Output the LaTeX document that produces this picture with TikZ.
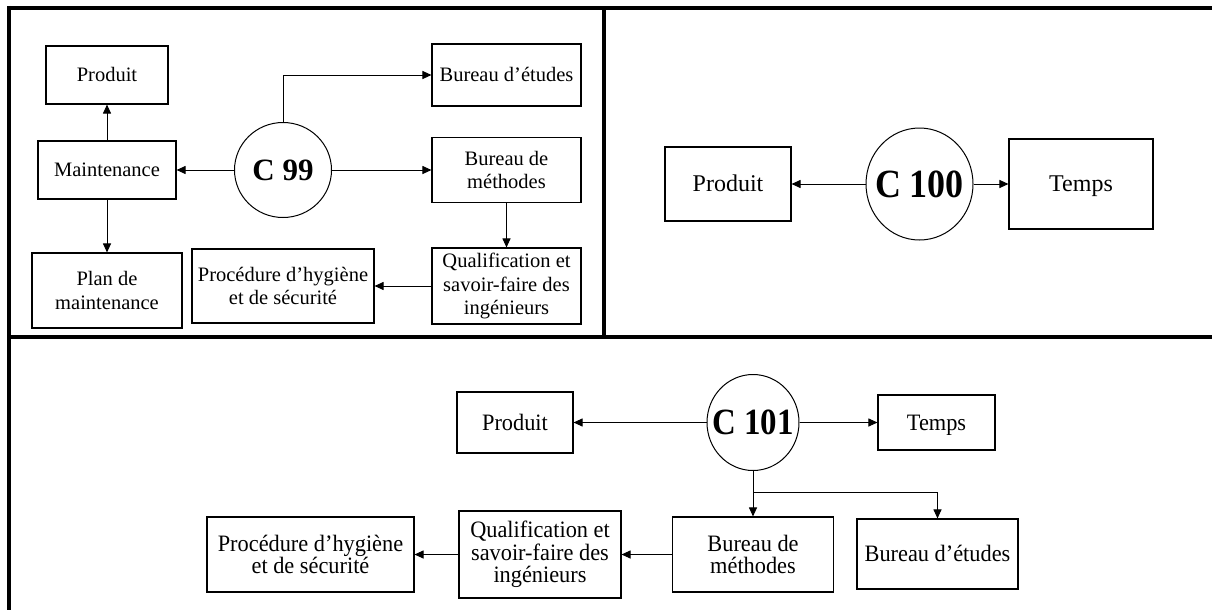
\documentclass[tikz,border=0pt]{standalone}
\usepackage{fontspec}
\setmainfont{Liberation Serif}
\newfontfamily\condfont[FakeStretch=0.95]{Liberation Serif}
\usetikzlibrary{arrows.meta,shapes.geometric}
\begin{document}
\begin{tikzpicture}[x=1pt,y=-1pt,
  box/.style={draw, line width=1.1pt, inner sep=0pt, align=center},
  tlf/.style={font=\fontsize{20.5}{23.5}\selectfont},
  trf/.style={font=\fontsize{24}{27}\selectfont},
  btf/.style={font=\condfont\fontsize{23.5}{22.5}\selectfont},
  onea/.style={text height=13.6pt, text depth=0pt},
  oneb/.style={text height=15.9pt, text depth=0pt},
  onec/.style={text height=15.6pt, text depth=0pt},
  conn/.style={line width=1pt, -{Triangle[length=9pt,width=8pt]}},
  frameline/.style={line width=4pt},
  circ/.style={draw, ellipse, line width=1pt, inner sep=0pt}
]
\useasboundingbox (0,0) rectangle (1212,610);
\fill[white] (0,0) rectangle (1212,610);

% frame
\draw[frameline] (7,8) -- (1212,8);
\draw[frameline] (9,6) -- (9,610);
\draw[frameline] (604,8) -- (604,337);
\draw[frameline] (9,337) -- (1212,337);

% ---- C 99 panel
\node[box,tlf,onea,minimum width=122pt,minimum height=58pt] (p1) at (107,75) {Produit};
\node[box,tlf,onea,minimum width=138pt,minimum height=58pt] (m1) at (107,170) {Maintenance};
\node[box,tlf,minimum width=150pt,minimum height=75pt] (pl1) at (107,290.5) {Plan de\\maintenance};
\node[box,tlf,minimum width=182pt,minimum height=74pt] (ph1) at (283,286) {Procédure d’hygiène\\et de sécurité};
\node[box,tlf,onea,minimum width=149pt,minimum height=62pt] (be1) at (506.5,75) {Bureau d’études};
\node[box,tlf,minimum width=149pt,minimum height=65pt] (bm1) at (506.5,170) {Bureau de\\méthodes};
\node[box,tlf,minimum width=149pt,minimum height=76pt] (q1) at (506.5,286) {Qualification et\\savoir-faire des\\ingénieurs};
\node[circ,minimum width=97pt,minimum height=95pt] (c99) at (283,170) {\makebox[0pt]{\fontsize{31}{31}\selectfont\bfseries C 99}};

\draw[conn] (m1) -- (p1);
\draw[conn] (m1) -- (pl1);
\draw[conn] (c99) -- (m1);
\draw[conn] (c99) -- (bm1);
\draw[conn] (c99.north) |- (be1.west);
\draw[conn] (bm1) -- (q1);
\draw[conn] (q1) -- (ph1);

% ---- C 100 panel
\node[box,trf,oneb,minimum width=126pt,minimum height=74pt] (p2) at (728,184) {Produit};
\node[circ,minimum width=107pt,minimum height=112pt] (c100) at (919.5,184) {\makebox[0pt]{\scalebox{0.9}[1]{\fontsize{40}{40}\selectfont\bfseries C 100}}};
\node[box,trf,oneb,minimum width=144pt,minimum height=90pt] (t2) at (1081,184) {Temps};
\draw[conn] (c100) -- (p2);
\draw[conn] (c100) -- (t2);

% ---- C 101 panel
\node[box,btf,onec,minimum width=116pt,minimum height=61pt] (p3) at (515,422.5) {Produit};
\node[circ,minimum width=92pt,minimum height=96pt] (c101) at (753,422.5) {\makebox[0pt]{\scalebox{0.89}[1]{\fontsize{37}{37}\selectfont\bfseries C 101}}};
\node[box,btf,onec,minimum width=117pt,minimum height=55pt] (t3) at (936.5,422.5) {Temps};
\node[box,btf,minimum width=161pt,minimum height=75pt] (bm3) at (753,554.5) {Bureau de\\méthodes};
\node[box,btf,onec,minimum width=161pt,minimum height=70pt] (be3) at (937.5,554) {Bureau d’études};
\node[box,btf,minimum width=162pt,minimum height=87pt] (q3) at (540,554.5) {Qualification et\\savoir-faire des\\ingénieurs};
\node[box,btf,minimum width=207pt,minimum height=75pt] (ph3) at (310.5,554.5) {Procédure d’hygiène\\et de sécurité};
\coordinate (br) at (753,492);

\draw[conn] (c101) -- (p3);
\draw[conn] (c101) -- (t3);
\draw[conn] (c101.south) -- (bm3.north);
\draw[conn] (br) -| (be3.north);
\draw[conn] (bm3) -- (q3);
\draw[conn] (q3) -- (ph3);
\end{tikzpicture}
\end{document}
